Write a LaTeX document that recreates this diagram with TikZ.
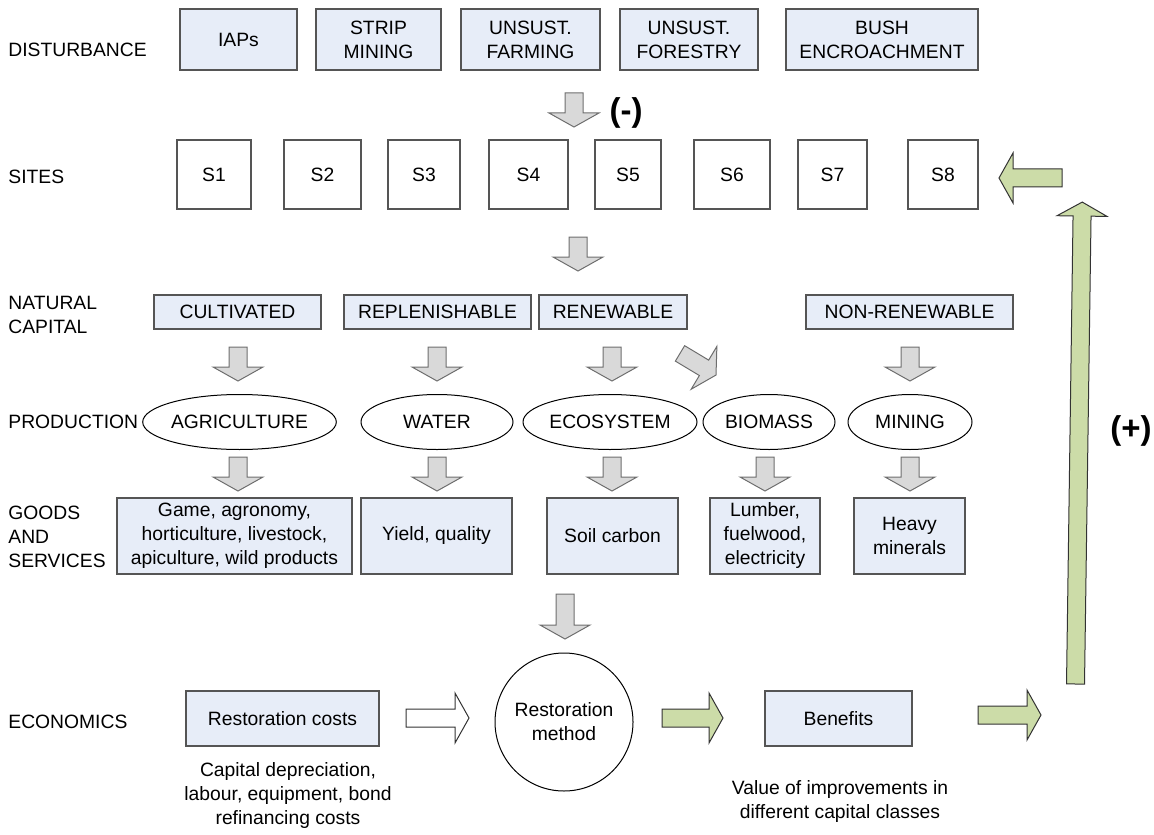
\documentclass[tikz,border=0pt]{standalone}
\usepackage{fontspec}
\setmainfont{Liberation Sans}
\usetikzlibrary{shapes.geometric}
\definecolor{boxblue}{RGB}{231,237,248}
\definecolor{boxline}{RGB}{85,85,85}
\definecolor{arrowgray}{RGB}{217,217,217}
\definecolor{arrowline}{RGB}{110,110,110}
\definecolor{arrowgreen}{RGB}{204,220,168}
\tikzset{
  rowlabel/.style={anchor=west, align=left, inner sep=0pt},
  bluebox/.style={draw=boxline, fill=boxblue, align=center, inner sep=0pt, line width=0.6pt},
  sitebox/.style={draw=boxline, fill=white, inner sep=0pt, minimum height=34.5pt, line width=0.6pt},
  prodoval/.style={ellipse, draw, inner sep=0pt, minimum height=27.5pt, line width=0.5pt},
  signtext/.style={font=\fontsize{16.5}{18}\selectfont\bfseries, inner sep=0pt},
  notetext/.style={align=center, inner sep=0pt},
  grayarrow/.style={draw=arrowline, fill=arrowgray, line width=0.5pt},
  greenarrow/.style={draw=black!80, fill=arrowgreen, line width=0.5pt},
  whitearrow/.style={draw=black!80, fill=white, line width=0.5pt},
  pics/blockarrow/.style={code={
    \draw[pic actions] (0,-9) -- ({#1-14},-9) -- ({#1-14},-25) -- (#1,0)
      -- ({#1-14},25) -- ({#1-14},9) -- (0,9) -- cycle;
  }}
}
\begin{document}
\begin{tikzpicture}[x=0.5pt, y=-0.5pt, font=\fontsize{9.65}{12}\selectfont]
	\useasboundingbox (0,0) rectangle (1154,834);
	% row labels
	\node[rowlabel] (lbldist) at (8,50) {DISTURBANCE};
	\node[rowlabel] (lblsites) at (8,177) {SITES};
	\node[rowlabel] (lblnat) at (8,315) {NATURAL\\CAPITAL};
	\node[rowlabel] (lblprod) at (8,422) {PRODUCTION};
	\node[rowlabel] (lblgoods) at (8,537) {GOODS\\AND\\SERVICES};
	\node[rowlabel] (lblecon) at (8,722) {ECONOMICS};
	% disturbance
	\node[bluebox, minimum width=58.5pt, minimum height=30.5pt] (iaps) at (238.5,39.5) {IAPs};
	\node[bluebox, minimum width=62.5pt, minimum height=30.5pt] (strip) at (378.5,39.5) {STRIP\\MINING};
	\node[bluebox, minimum width=69.5pt, minimum height=30.5pt] (farming) at (530.5,39.5) {UNSUST.\\FARMING};
	\node[bluebox, minimum width=69pt, minimum height=30.5pt] (forestry) at (689,39.5) {UNSUST.\\FORESTRY};
	\node[bluebox, minimum width=96pt, minimum height=30.5pt] (bush) at (882,39.5) {BUSH\\ENCROACHMENT};
	\pic[grayarrow, rotate=-90] at (574,93) {blockarrow=34};
	\node[signtext] (minus) at (626,113) {(-)};
	% sites
	\node[sitebox, minimum width=37pt] (s1) at (214,174.5) {S1};
	\node[sitebox, minimum width=38.5pt] (s2) at (322.5,174.5) {S2};
	\node[sitebox, minimum width=36pt] (s3) at (424,174.5) {S3};
	\node[sitebox, minimum width=39.5pt] (s4) at (528.5,174.5) {S4};
	\node[sitebox, minimum width=33pt] (s5) at (628,174.5) {S5};
	\node[sitebox, minimum width=38pt] (s6) at (732,174.5) {S6};
	\node[sitebox, minimum width=34.5pt] (s7) at (832.5,174.5) {S7};
	\node[sitebox, minimum width=35pt] (s8) at (943,174.5) {S8};
	\pic[greenarrow, rotate=180] at (1062,178) {blockarrow=63};
	\pic[grayarrow, rotate=-90] at (578,237) {blockarrow=34};
	% natural capital
	\node[bluebox, minimum width=83.5pt, minimum height=17pt] (cult) at (237.5,312) {CULTIVATED};
	\node[bluebox, minimum width=93.5pt, minimum height=17pt] (repl) at (437.5,312) {REPLENISHABLE};
	\node[bluebox, minimum width=74pt, minimum height=17pt] (renew) at (613,312) {RENEWABLE};
	\node[bluebox, minimum width=103.5pt, minimum height=17pt] (nonrenew) at (909.5,312) {NON-RENEWABLE};
	\pic[grayarrow, rotate=-90] at (238,347) {blockarrow=34};
	\pic[grayarrow, rotate=-90] at (437,347) {blockarrow=34};
	\pic[grayarrow, rotate=-90] at (612,347) {blockarrow=34};
	\pic[grayarrow, rotate=-31] at (680,353.4) {blockarrow=42};
	\pic[grayarrow, rotate=-90] at (910,347) {blockarrow=34};
	% production
	\node[prodoval, minimum width=90.5pt] (agri) at (239.5,422) {AGRICULTURE};
	\node[prodoval, minimum width=76pt] (water) at (437,422) {WATER};
	\node[prodoval, minimum width=87pt] (eco) at (610,422) {ECOSYSTEM};
	\node[prodoval, minimum width=66pt] (bio) at (769,422) {BIOMASS};
	\node[prodoval, minimum width=62pt] (mining) at (910,422) {MINING};
	\pic[grayarrow, rotate=-90] at (238,457) {blockarrow=34};
	\pic[grayarrow, rotate=-90] at (437,457) {blockarrow=34};
	\pic[grayarrow, rotate=-90] at (612,457) {blockarrow=34};
	\pic[grayarrow, rotate=-90] at (765,457) {blockarrow=34};
	\pic[grayarrow, rotate=-90] at (910,457) {blockarrow=34};
	% goods and services
	\node[bluebox, minimum width=117.5pt, minimum height=38pt] (game) at (234.5,536) {Game, agronomy,\\horticulture, livestock,\\apiculture, wild products};
	\node[bluebox, minimum width=75.5pt, minimum height=38pt] (yield) at (436.5,536) {Yield, quality};
	\node[bluebox, minimum width=65.5pt, minimum height=38pt] (soil) at (612.5,536) {Soil carbon};
	\node[bluebox, minimum width=55pt, minimum height=38pt] (lumber) at (765,536) {Lumber,\\fuelwood,\\electricity};
	\node[bluebox, minimum width=55.5pt, minimum height=38pt] (heavy) at (909.5,536) {Heavy\\minerals};
	\pic[grayarrow, rotate=-90] at (565,594) {blockarrow=45};
	% economics
	\node[bluebox, minimum width=96.5pt, minimum height=27.5pt] (costs) at (282.5,718.5) {Restoration costs};
	\node[circle, draw, inner sep=0pt, minimum size=69pt, align=center, line width=0.5pt] (method) at (564,722) {Restoration\\method};
	\node[bluebox, minimum width=73.5pt, minimum height=27.5pt] (benefits) at (838.5,718.5) {Benefits};
	\node[notetext] (costsnote) at (288,795) {Capital depreciation,\\labour, equipment, bond\\refinancing costs};
	\node[notetext] (benefitsnote) at (840,801) {Value of improvements in\\different capital classes};
	\pic[whitearrow] at (406,718) {blockarrow=63};
	\pic[greenarrow] at (662,718) {blockarrow=61};
	\pic[greenarrow] at (978,715) {blockarrow=63};
	% feedback
	\pic[greenarrow, rotate=89.2] at (1075.5,684) {blockarrow=482};
	\node[signtext] (plus) at (1131,431) {(+)};
\end{tikzpicture}
\end{document}
